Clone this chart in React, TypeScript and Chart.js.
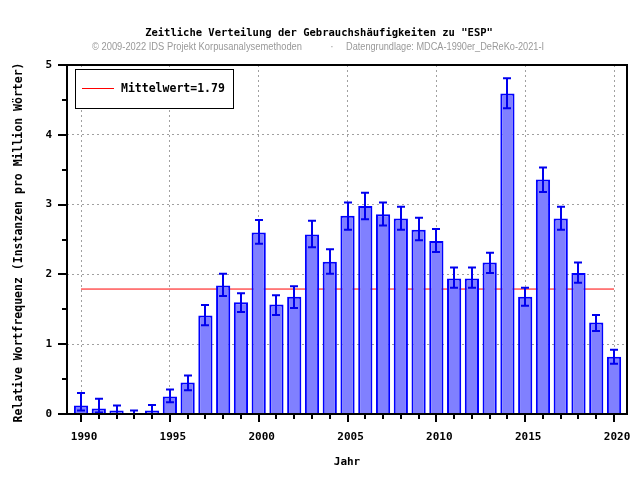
import React, { useEffect, useRef } from 'react';
import { Chart, registerables } from 'chart.js';

Chart.register(...registerables);

const years = [1990, 1991, 1992, 1993, 1994, 1995, 1996, 1997, 1998, 1999, 2000, 2001, 2002, 2003, 2004, 2005, 2006, 2007, 2008, 2009, 2010, 2011, 2012, 2013, 2014, 2015, 2016, 2017, 2018, 2019, 2020];
const values = [0.12, 0.08, 0.05, 0.0, 0.05, 0.25, 0.45, 1.41, 1.84, 1.60, 2.60, 1.57, 1.68, 2.57, 2.18, 2.84, 2.98, 2.86, 2.80, 2.64, 2.48, 1.94, 1.94, 2.17, 4.59, 1.68, 3.36, 2.80, 2.02, 1.31, 0.82];
const errLow = [0.05, 0.02, 0.0, 0.0, 0.0, 0.17, 0.34, 1.27, 1.69, 1.46, 2.44, 1.42, 1.52, 2.39, 2.01, 2.64, 2.79, 2.70, 2.64, 2.49, 2.32, 1.81, 1.81, 2.02, 4.38, 1.55, 3.18, 2.64, 1.88, 1.19, 0.72];
const errHigh = [0.30, 0.22, 0.12, 0.05, 0.13, 0.35, 0.55, 1.56, 2.01, 1.73, 2.78, 1.70, 1.83, 2.77, 2.36, 3.03, 3.17, 3.03, 2.97, 2.81, 2.65, 2.10, 2.10, 2.31, 4.81, 1.81, 3.53, 2.97, 2.17, 1.42, 0.92];
const meanValue = 1.79;
const meanSpan = [1990, 2020];
const xTickLabels = [1990, 1995, 2000, 2005, 2010, 2015, 2020];
const yTickLabels = [0, 1, 2, 3, 4, 5];
const yMinorTicks = [0.5, 1.5, 2.5, 3.5, 4.5];

const titleText = 'Zeitliche Verteilung der Gebrauchshäufigkeiten zu "ESP"';
const subtitleLeft = '© 2009-2022 IDS Projekt Korpusanalysemethoden';
const subtitleDot = '·';
const subtitleRight = 'Datengrundlage: MDCA-1990er_DeReKo-2021-I';
const xTitle = 'Jahr';
const yTitle = 'Relative Wortfrequenz (Instanzen pro Million Wörter)';
const legendLabel = 'Mittelwert=' + meanValue.toFixed(2);

const MONO = '"DejaVu Sans Mono", monospace';

function drawSqueezed(ctx: any, text: string, x: number, y: number, targetWidth: number) {
  const w = ctx.measureText(text).width;
  const sx = w > 0 ? targetWidth / w : 1;
  ctx.save();
  ctx.translate(x, y);
  ctx.scale(sx, 1);
  ctx.textAlign = 'left';
  ctx.fillText(text, 0, 0);
  ctx.restore();
}

const decorPlugin = {
  id: 'decor',
  afterDatasetsDraw(chart: any) {
    const ctx = chart.ctx;
    const { left, right, top, bottom } = chart.chartArea;
    const xs = chart.scales.x;
    const ys = chart.scales.y;
    // error bars
    const meta = chart.getDatasetMeta(1);
    ctx.save();
    ctx.strokeStyle = '#0000ee';
    ctx.lineWidth = 2;
    meta.data.forEach((el: any, i: number) => {
      const x = Math.round(el.x);
      const yl = ys.getPixelForValue(errLow[i]);
      const yh = ys.getPixelForValue(errHigh[i]);
      ctx.beginPath();
      ctx.moveTo(x, yl);
      ctx.lineTo(x, yh);
      ctx.moveTo(x - 4, yh);
      ctx.lineTo(x + 4, yh);
      if (errLow[i] > 0.01) {
        ctx.moveTo(x - 4, yl);
        ctx.lineTo(x + 4, yl);
      }
      ctx.stroke();
    });
    ctx.restore();

    // frame
    ctx.save();
    ctx.strokeStyle = '#000';
    ctx.lineWidth = 2;
    ctx.strokeRect(left, top, right - left, bottom - top);
    // tick marks
    ctx.beginPath();
    years.forEach((yv) => {
      const x = Math.round(xs.getPixelForValue(yv));
      const len = xTickLabels.includes(yv) ? 8 : 5;
      ctx.moveTo(x, bottom);
      ctx.lineTo(x, bottom + len);
    });
    yTickLabels.forEach((v) => {
      const y = Math.round(ys.getPixelForValue(v));
      ctx.moveTo(left, y);
      ctx.lineTo(left - 9, y);
    });
    yMinorTicks.forEach((v) => {
      const y = Math.round(ys.getPixelForValue(v));
      ctx.moveTo(left, y);
      ctx.lineTo(left - 5, y);
    });
    ctx.stroke();
    ctx.restore();
  },
  afterDraw(chart: any) {
    const ctx = chart.ctx;
    const { left, right } = chart.chartArea;
    ctx.save();
    // title
    ctx.fillStyle = '#000';
    ctx.font = 'bold 10.5px ' + MONO;
    ctx.textAlign = 'center';
    ctx.textBaseline = 'middle';
    ctx.fillText(titleText, 319, 33);
    // subtitle
    ctx.fillStyle = '#999999';
    ctx.font = '10px "Liberation Sans", Arial, sans-serif';
    drawSqueezed(ctx, subtitleLeft, 92, 47, 210);
    ctx.textAlign = 'center';
    ctx.fillText(subtitleDot, 332, 47);
    drawSqueezed(ctx, subtitleRight, 346, 47, 198);
    // axis titles
    ctx.fillStyle = '#000';
    ctx.font = 'bold 11px ' + MONO;
    ctx.textAlign = 'center';
    ctx.fillText(xTitle, (left + right) / 2, 462);
    ctx.save();
    ctx.font = 'bold 11.5px ' + MONO;
    ctx.translate(19, 242.5);
    ctx.rotate(-Math.PI / 2);
    ctx.fillText(yTitle, 0, 0);
    ctx.restore();
    // legend
    ctx.fillStyle = '#fff';
    ctx.fillRect(75.5, 69.5, 158, 39);
    ctx.strokeStyle = '#000';
    ctx.lineWidth = 1;
    ctx.strokeRect(75.5, 69.5, 158, 39);
    ctx.strokeStyle = '#ff0000';
    ctx.beginPath();
    ctx.moveTo(82, 88.5);
    ctx.lineTo(114, 88.5);
    ctx.stroke();
    ctx.fillStyle = '#000';
    ctx.font = 'bold 11.5px ' + MONO;
    ctx.textAlign = 'left';
    ctx.fillText(legendLabel, 121, 89);
    ctx.restore();
  },
};

export default function App() {
  const ref = useRef<HTMLCanvasElement | null>(null);
  useEffect(() => {
    if (!ref.current) return;
    const chart = new Chart(ref.current, {
      type: 'bar',
      data: {
        datasets: [
          {
            type: 'line',
            label: legendLabel,
            data: meanSpan.map((x) => ({ x, y: meanValue })),
            borderColor: '#ff0000',
            borderWidth: 1,
            pointRadius: 0,
            order: 2,
          } as any,
          {
            type: 'bar',
            label: 'Frequenz',
            data: years.map((x, i) => ({ x, y: values[i] })),
            backgroundColor: '#8080ff',
            borderColor: '#0000ff',
            borderWidth: 2,
            barPercentage: 0.8,
            categoryPercentage: 1,
            order: 1,
          } as any,
        ],
      },
      options: {
        responsive: false,
        animation: false,
        layout: { padding: { top: 65, right: 13, bottom: 0, left: 0 } },
        plugins: { legend: { display: false }, tooltip: { enabled: false }, title: { display: false } },
        scales: {
          x: {
            type: 'linear',
            min: 1989.21,
            max: 2020.73,
            offset: false,
            afterFit: (s: any) => { s.height = 66; s.paddingLeft = 0; s.paddingRight = 0; },
            afterBuildTicks: (s: any) => { s.ticks = xTickLabels.map((v) => ({ value: v })); },
            ticks: {
              autoSkip: false,
              maxRotation: 0,
              padding: 17,
              labelOffset: 3,
              color: '#000',
              font: { family: MONO, size: 11, weight: 'bold' },
              callback: (v: any) => String(v),
            },
            grid: { drawTicks: false, offset: false, color: '#a0a0a0', lineWidth: 1 },
            border: { display: false, dash: [2, 3] },
          },
          y: {
            type: 'linear',
            min: 0,
            max: 5,
            afterFit: (s: any) => { s.width = 67; s.paddingTop = 0; s.paddingBottom = 0; },
            afterBuildTicks: (s: any) => { s.ticks = yTickLabels.map((v) => ({ value: v })); },
            ticks: {
              padding: 15,
              color: '#000',
              font: { family: MONO, size: 11, weight: 'bold' },
              callback: (v: any) => String(v),
            },
            grid: {
              drawTicks: false,
              color: (c: any) => (c.tick && (c.tick.value === 0 || c.tick.value === 5) ? 'rgba(0,0,0,0)' : '#a0a0a0'),
              lineWidth: 1,
            },
            border: { display: false, dash: [2, 3] },
          },
        },
      } as any,
      plugins: [decorPlugin],
    });
    return () => chart.destroy();
  }, []);
  return (
    <div style={{ position: 'fixed', left: 0, top: 0, width: 640, height: 480, background: '#fff' }}>
      <canvas ref={ref} width={640} height={480} style={{ display: 'block' }} />
    </div>
  );
}
